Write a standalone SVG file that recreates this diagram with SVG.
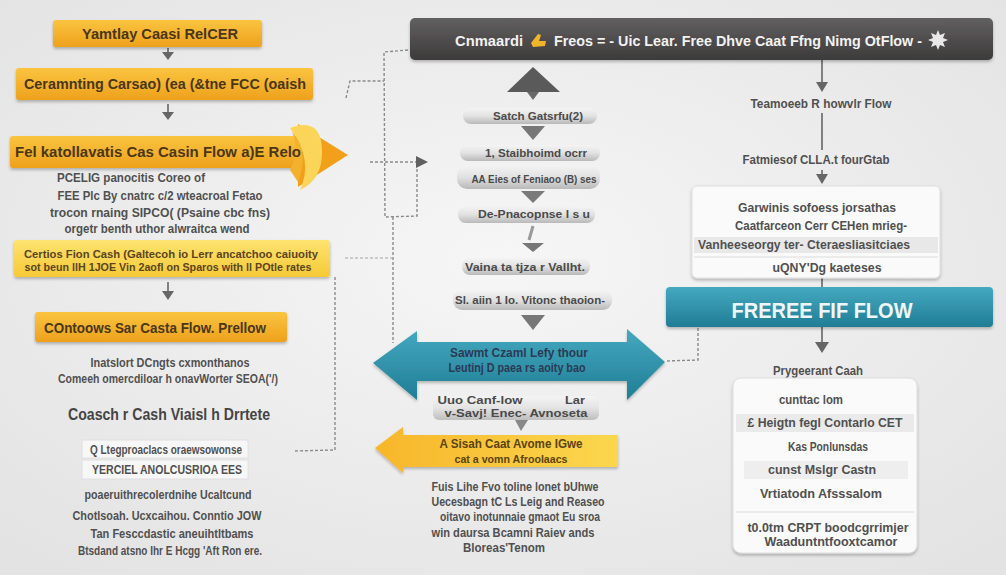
<svg xmlns="http://www.w3.org/2000/svg" width="1006" height="575" viewBox="0 0 1006 575">
<defs>
<radialGradient id="bg" cx="50%" cy="45%" r="70%">
<stop offset="0" stop-color="#f6f6f6"/><stop offset="1" stop-color="#e3e3e3"/>
</radialGradient>
<linearGradient id="gOr" x1="0" y1="0" x2="0" y2="1"><stop offset="0" stop-color="#fac440"/><stop offset="1" stop-color="#eea11c"/></linearGradient>
<linearGradient id="gLy" x1="0" y1="0" x2="0" y2="1"><stop offset="0" stop-color="#fde370"/><stop offset="1" stop-color="#f6c936"/></linearGradient>
<linearGradient id="gTe" x1="0" y1="0" x2="0" y2="1"><stop offset="0" stop-color="#45a9c0"/><stop offset="1" stop-color="#1f7d95"/></linearGradient>
<linearGradient id="gHd" x1="0" y1="0" x2="0" y2="1"><stop offset="0" stop-color="#626060"/><stop offset="1" stop-color="#3c3a3a"/></linearGradient>
<linearGradient id="gBar" x1="0" y1="0" x2="0" y2="1"><stop offset="0" stop-color="#f4f4f4"/><stop offset="0.5" stop-color="#e2e2e2"/><stop offset="1" stop-color="#b9b9b9"/></linearGradient>
<linearGradient id="gYa" x1="0" y1="0" x2="1" y2="0"><stop offset="0" stop-color="#f7b62a"/><stop offset="1" stop-color="#fbd74e"/></linearGradient>
<filter id="sh" x="-10%" y="-20%" width="120%" height="150%"><feDropShadow dx="0" dy="2" stdDeviation="1.5" flood-color="#000" flood-opacity="0.25"/></filter>
<marker id="ah" viewBox="0 0 10 10" refX="9" refY="5" markerWidth="7" markerHeight="7" orient="auto"><path d="M0,0 L10,5 L0,10 z" fill="#666"/></marker>
<style>
text{font-family:"Liberation Sans",Arial,sans-serif;font-weight:bold;text-anchor:middle}
.bx{font-size:14px;fill:#4a3718}
.bd{font-size:12px;fill:#505050}
.sm{font-size:10.5px;fill:#5a4520}
.wh{fill:#f2f2f2}
.bar{fill:url(#gBar)}
.mid{font-size:11px;fill:#4a4a4a}
.dash{fill:none;stroke:#8a8a8a;stroke-width:1.4;stroke-dasharray:3 2}
.sol{fill:none;stroke:#666;stroke-width:1.6}
.tri{fill:#666}
.card{fill:#fafafa;stroke:#dedede;stroke-width:1}
</style>
</defs>
<rect width="1006" height="575" fill="url(#bg)"/>

<g id="connectors">
<path class="dash" d="M408,50 L384,52 L385,217 L417,216 L417,163"/>
<path class="dash" d="M370,162 L418,162"/>
<path d="M416,156 L428,162 L416,168 z" fill="#606060"/>
<path class="dash" d="M346,98 L350,81 L384,81"/>
<path class="dash" d="M393,217 L393,343"/>
<path class="dash" d="M345,258 L392,258" opacity="0.5"/>
<path class="dash" d="M335,277 L335,450 L295,451"/>
<path class="dash" d="M698,328 L698,360 L665,361"/>
<path class="sol" d="M822,60 L822,82"/><path class="tri" d="M816,82 L828,82 L822,92 z"/>
<path class="sol" d="M822,113 L822,150"/>
<path class="sol" d="M822,170 L822,176"/><path class="tri" d="M816,174 L828,174 L822,184 z"/>
<path class="sol" d="M822,278 L822,288"/>
<path class="sol" d="M822,327 L822,343"/><path class="tri" d="M815,342 L829,342 L822,353 z"/>
<path class="sol" d="M168,48 L168,53" stroke="#999"/><path class="tri" d="M162,52 L174,52 L168,60 z"/>
<path class="sol" d="M168,104 L168,113" stroke="#999"/><path class="tri" d="M162,112 L174,112 L168,120 z"/>
<path class="sol" d="M168,282 L168,292" stroke="#999"/><path class="tri" d="M162,291 L174,291 L168,300 z"/>
<path d="M521,126 L545,126 L533,140 z" fill="#777"/>
<path d="M521,191 L545,191 L533,203 z" fill="#7a7a7a"/>
<path d="M533,226 L529,240" stroke="#999" stroke-width="3"/>
<path d="M522,243 L544,243 L533,252 z" fill="#777"/>
<path d="M521,315 L545,315 L533,330 z" fill="#777"/>
<path d="M515,420 L528,420 L521,431 z" fill="#888"/>
</g>

<g id="n-header">
<rect x="410" y="18" width="583" height="42" rx="5" fill="url(#gHd)" filter="url(#sh)"/>
<text x="489" y="46" class="wh" font-size="14" textLength="68" lengthAdjust="spacingAndGlyphs">Cnmaardi</text>
<path d="M531,43 L538,34 L541,35 L539,41 L546,41 L545,46 L533,47 z" fill="#f1b52a"/>
<text x="738" y="46" class="wh" font-size="14" textLength="368" lengthAdjust="spacingAndGlyphs">Freos = - Uic Lear. Free Dhve Caat Ffng Nimg OtFlow -</text>
<g fill="#e8e8e8"><circle cx="938" cy="40" r="5"/><path d="M938,30 L940,35 L945,33 L943,38 L948,40 L943,42 L945,47 L940,45 L938,50 L936,45 L931,47 L933,42 L928,40 L933,38 L931,33 L936,35 z"/></g>
</g>

<g id="n-left1">
<rect x="53" y="20" width="209" height="27" rx="3" fill="url(#gOr)" filter="url(#sh)"/>
<text x="160" y="39" class="bx" textLength="156" lengthAdjust="spacingAndGlyphs">Yamtlay Caasi RelCER</text>
</g>
<g id="n-left2">
<rect x="16" y="68" width="297" height="32" rx="3" fill="url(#gOr)" filter="url(#sh)"/>
<text x="165" y="89" class="bx" textLength="282" lengthAdjust="spacingAndGlyphs">Ceramnting Carsao) (ea (&amp;tne FCC (oaish</text>
</g>
<g id="n-left3">
<rect x="10" y="136" width="292" height="32" rx="3" fill="url(#gOr)" filter="url(#sh)"/>
<path d="M298,124 L348,155 L298,187 z" fill="#f2a01a"/>
<path d="M290,128 Q322,116 322,152 Q322,180 300,190 Q314,160 290,128 z" fill="#fbd559"/>
<path d="M292,132 Q310,150 298,182 L290,170 Q300,150 292,132 z" fill="#f4b12e"/>
<text x="158" y="157" class="bx" textLength="286" lengthAdjust="spacingAndGlyphs">Fel katollavatis Cas Casin Flow a)E Relo</text>
</g>
<g id="t-left-a">
<text x="131" y="182" class="bd" textLength="148" lengthAdjust="spacingAndGlyphs">PCELIG panocitis Coreo of</text>
<text x="160" y="200" class="bd" textLength="205" lengthAdjust="spacingAndGlyphs">FEE Plc By cnatrc c/2 wteacroal Fetao</text>
<text x="160" y="217" class="bd" textLength="220" lengthAdjust="spacingAndGlyphs">trocon rnaing SIPCO( (Psaine cbc fns)</text>
<text x="157" y="233" class="bd" textLength="185" lengthAdjust="spacingAndGlyphs">orgetr benth uthor alwraitca wend</text>
</g>
<g id="n-left4">
<rect x="14" y="240" width="316" height="37" rx="3" fill="url(#gLy)" filter="url(#sh)"/>
<text x="171" y="258" class="sm" textLength="294" lengthAdjust="spacingAndGlyphs">Certios Fion Cash (Galtecoh io Lerr ancatchoo caiuoity</text>
<text x="168" y="271" class="sm" textLength="287" lengthAdjust="spacingAndGlyphs">sot beun llH 1JOE Vin 2aofl on Sparos with ll POtle rates</text>
</g>
<g id="n-left5">
<rect x="35" y="312" width="252" height="30" rx="3" fill="url(#gOr)" filter="url(#sh)"/>
<text x="155" y="333" class="bx" textLength="222" lengthAdjust="spacingAndGlyphs">COntoows Sar Casta Flow. Prellow</text>
</g>
<g id="t-left-b">
<text x="170" y="367" class="bd" textLength="159" lengthAdjust="spacingAndGlyphs">Inatslort DCngts cxmonthanos</text>
<text x="168" y="383" class="bd" textLength="220" lengthAdjust="spacingAndGlyphs">Comeeh omercdiloar h onavWorter SEOA('/)</text>
<text x="169" y="420" font-size="17" fill="#454545" textLength="202" lengthAdjust="spacingAndGlyphs">Coasch r Cash Viaisl h Drrtete</text>
</g>
<g id="n-left6">
<rect x="82" y="440" width="166" height="18" fill="#f7f7f7" stroke="#e0e0e0"/>
<text x="166" y="454" class="bd" font-size="11" textLength="152" lengthAdjust="spacingAndGlyphs">Q Ltegproaclacs oraewsowonse</text>
<rect x="82" y="460" width="166" height="19" fill="#f7f7f7" stroke="#e0e0e0"/>
<text x="167" y="474" class="bd" font-size="11" textLength="150" lengthAdjust="spacingAndGlyphs">YERCIEL ANOLCUSRIOA EES</text>
</g>
<g id="t-left-c">
<text x="168" y="499" class="bd" textLength="167" lengthAdjust="spacingAndGlyphs">poaeruithrecolerdnihe Ucaltcund</text>
<text x="167" y="520" class="bd" textLength="189" lengthAdjust="spacingAndGlyphs">Chotlsoah. Ucxcaihou. Conntio JOW</text>
<text x="172" y="538" class="bd" textLength="163" lengthAdjust="spacingAndGlyphs">Tan Fesccdastic aneuihtltbams</text>
<text x="170" y="555" class="bd" textLength="184" lengthAdjust="spacingAndGlyphs">Btsdand atsno Ihr E Hcgg 'Aft Ron ere.</text>
</g>

<g id="n-mid-top">
<path d="M507,92 L533,67 L560,92 z" fill="#5a5a5a"/>
<path d="M527,92 L539,92 L533,100 z" fill="#6a6a6a"/>
</g>
<g id="n-mid1"><rect x="463" y="108" width="134" height="16" rx="8" class="bar"/><text x="538" y="120" class="mid" textLength="90" lengthAdjust="spacingAndGlyphs">Satch Gatsrfu(2)</text></g>
<g id="n-mid2"><rect x="460" y="145" width="140" height="16" rx="8" class="bar"/><text x="536" y="157" class="mid" textLength="102" lengthAdjust="spacingAndGlyphs">1, Staibhoimd ocrr</text></g>
<g id="n-mid3"><rect x="457" y="165" width="143" height="24" rx="10" class="bar"/><text x="534" y="183" class="mid" textLength="125" lengthAdjust="spacingAndGlyphs">AA Eies of Feniaoo (B) ses</text></g>
<g id="n-mid4"><rect x="458" y="206" width="137" height="17" rx="8" class="bar"/><text x="534" y="218" class="mid" textLength="112" lengthAdjust="spacingAndGlyphs">De-Pnacopnse l s u</text></g>
<g id="n-mid5"><rect x="462" y="258" width="128" height="17" rx="8" class="bar"/><text x="525" y="271" class="mid" textLength="120" lengthAdjust="spacingAndGlyphs">Vaina ta tjza r Vallht.</text></g>
<g id="n-mid6"><rect x="453" y="290" width="159" height="20" rx="9" class="bar"/><text x="530" y="304" class="mid" textLength="150" lengthAdjust="spacingAndGlyphs">Sl. aiin 1 Io. Vitonc thaoion-</text></g>

<g id="n-teal-arrow">
<path d="M373,363 L417,331 L417,342 L627,342 L627,329 L665,362 L627,400 L627,381 L417,381 L417,400 z" fill="url(#gTe)" filter="url(#sh)"/>
<text x="519" y="357" font-size="12" fill="#2b3a55" textLength="138" lengthAdjust="spacingAndGlyphs">Sawmt Czaml Lefy thour</text>
<text x="517" y="372" font-size="12" fill="#2b3a55" textLength="137" lengthAdjust="spacingAndGlyphs">Leutinj D paea rs aoity bao</text>
</g>
<g id="n-mid-gray">
<rect x="433" y="396" width="166" height="24" rx="6" class="bar" opacity="0.9"/>
<text x="480" y="404" class="mid" textLength="85" lengthAdjust="spacingAndGlyphs">Uuo Canf-low</text>
<text x="575" y="404" class="mid" textLength="20" lengthAdjust="spacingAndGlyphs">Lar</text>
<text x="516" y="417" class="mid" textLength="143" lengthAdjust="spacingAndGlyphs">v-Savj! Enec- Avnoseta</text>
</g>
<g id="n-yellow-arrow">
<path d="M375,448 L403,427 L403,435 L618,435 L618,467 L403,467 L403,473 z" fill="url(#gYa)" filter="url(#sh)"/>
<text x="511" y="448" font-size="12" fill="#5a4410" textLength="143" lengthAdjust="spacingAndGlyphs">A Sisah Caat Avome IGwe</text>
<text x="511" y="463" font-size="11" fill="#5a4410" textLength="113" lengthAdjust="spacingAndGlyphs">cat a vomn Afroolaacs</text>
</g>
<g id="t-mid-bottom">
<text x="515" y="491" class="bd" textLength="167" lengthAdjust="spacingAndGlyphs">Fuis Lihe Fvo toline lonet bUhwe</text>
<text x="518" y="506" class="bd" textLength="173" lengthAdjust="spacingAndGlyphs">Uecesbagn tC Ls Leig and Reaseo</text>
<text x="520" y="521" class="bd" textLength="160" lengthAdjust="spacingAndGlyphs">oitavo inotunnaie gmaot Eu sroa</text>
<text x="513" y="537" class="bd" textLength="163" lengthAdjust="spacingAndGlyphs">win daursa Bcamni Raiev ands</text>
<text x="504" y="552" class="bd" textLength="82" lengthAdjust="spacingAndGlyphs">Bloreas'Tenom</text>
</g>

<g id="t-right-a">
<text x="821" y="108" class="bd" font-size="11.5" textLength="141" lengthAdjust="spacingAndGlyphs">Teamoeeb R howvlr Flow</text>
<text x="816" y="164" class="bd" font-size="11.5" textLength="147" lengthAdjust="spacingAndGlyphs">Fatmiesof CLLA.t fourGtab</text>
</g>
<g id="n-right-box">
<rect x="692" y="186" width="248" height="92" rx="5" class="card" filter="url(#sh)"/>
<rect x="694" y="237" width="244" height="16" fill="#e4e4e4" opacity="0.8"/>
<line x1="694" y1="257" x2="938" y2="257" stroke="#dcdcdc"/>
<text x="817" y="212" class="bd" font-size="11.5" textLength="158" lengthAdjust="spacingAndGlyphs">Garwinis sofoess jorsathas</text>
<text x="821" y="230" class="bd" font-size="11.5" textLength="172" lengthAdjust="spacingAndGlyphs">Caatfarceon Cerr CEHen mrieg-</text>
<text x="804" y="249" class="bd" font-size="11.5" textLength="212" lengthAdjust="spacingAndGlyphs">Vanheeseorgy ter- Cteraesliasitciaes</text>
<text x="827" y="272" class="bd" font-size="11.5" textLength="109" lengthAdjust="spacingAndGlyphs">uQNY'Dg kaeteses</text>
</g>
<g id="n-free">
<rect x="666" y="287" width="327" height="40" rx="4" fill="url(#gTe)" filter="url(#sh)"/>
<text x="822" y="318" font-size="22" fill="#eef6f8" textLength="181" lengthAdjust="spacingAndGlyphs">FREREE FIF FLOW</text>
</g>
<g id="n-right-list">
<text x="818" y="375" class="bd" font-size="11.5" textLength="90" lengthAdjust="spacingAndGlyphs">Prygeerant Caah</text>
<rect x="733" y="378" width="184" height="175" rx="8" class="card" filter="url(#sh)"/>
<rect x="736" y="414" width="178" height="18" fill="#e6e6e6" opacity="0.8"/>
<rect x="744" y="461" width="164" height="18" fill="#ebebeb" opacity="0.8"/>
<line x1="736" y1="512" x2="914" y2="512" stroke="#dcdcdc"/>
<text x="811" y="404" class="bd" font-size="11.5" textLength="64" lengthAdjust="spacingAndGlyphs">cunttac lom</text>
<text x="825" y="427" class="bd" font-size="11.5" textLength="155" lengthAdjust="spacingAndGlyphs">£ Heigtn fegl Contarlo CET</text>
<text x="828" y="451" class="bd" font-size="11.5" textLength="80" lengthAdjust="spacingAndGlyphs">Kas Ponlunsdas</text>
<text x="822" y="474" class="bd" font-size="11.5" textLength="108" lengthAdjust="spacingAndGlyphs">cunst Mslgr Castn</text>
<text x="821" y="498" class="bd" font-size="11.5" textLength="122" lengthAdjust="spacingAndGlyphs">Vrtiatodn Afsssalom</text>
<text x="828" y="532" class="bd" font-size="12" textLength="161" lengthAdjust="spacingAndGlyphs">t0.0tm CRPT boodcgrrimjer</text>
<text x="831" y="546" class="bd" font-size="10.5" textLength="133" lengthAdjust="spacingAndGlyphs">Waaduntntfooxtcamor</text>
</g>
</svg>
